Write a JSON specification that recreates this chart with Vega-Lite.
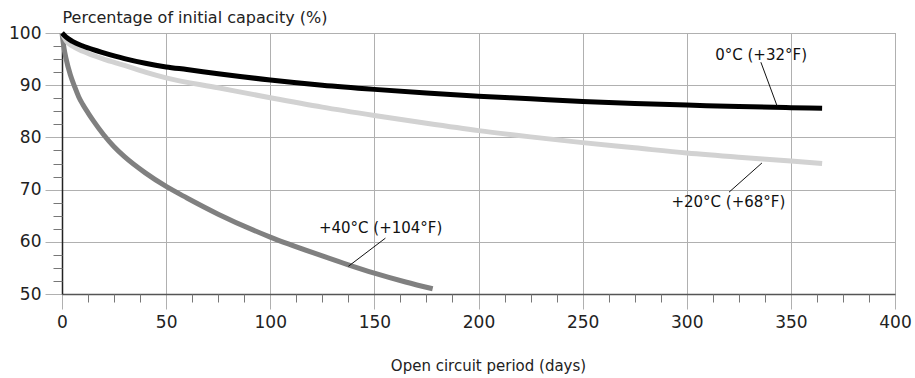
{
  "$schema": "https://vega.github.io/schema/vega-lite/v6.json",
  "width": 833,
  "height": 261,
  "autosize": "none",
  "padding": {"left": 62, "top": 33, "right": 20, "bottom": 84},
  "background": "white",
  "config": {
    "view": {"stroke": "#888888", "strokeWidth": 1},
    "font": "DejaVu Sans",
    "axis": {"labelFont": "DejaVu Sans", "titleFont": "DejaVu Sans", "labelColor": "#222", "titleColor": "#222", "titleFontWeight": "normal"}
  },
  "resolve": {"axis": {"x": "independent", "y": "independent"}},
  "datasets": {
    "curves": [
      {"series": "40", "x": 0, "y": 100}, {"series": "40", "x": 1, "y": 97}, {"series": "40", "x": 2, "y": 95}, {"series": "40", "x": 4, "y": 92}, {"series": "40", "x": 6, "y": 89.8}, {"series": "40", "x": 8, "y": 87.8}, {"series": "40", "x": 10, "y": 86.3}, {"series": "40", "x": 12.5, "y": 84.7}, {"series": "40", "x": 15, "y": 83.2}, {"series": "40", "x": 20, "y": 80.5}, {"series": "40", "x": 25, "y": 78.2}, {"series": "40", "x": 30, "y": 76.3}, {"series": "40", "x": 40, "y": 73.2}, {"series": "40", "x": 50, "y": 70.6}, {"series": "40", "x": 60, "y": 68.4}, {"series": "40", "x": 75, "y": 65.3}, {"series": "40", "x": 100, "y": 60.9}, {"series": "40", "x": 125, "y": 57.3}, {"series": "40", "x": 137.5, "y": 55.6}, {"series": "40", "x": 150, "y": 54.0}, {"series": "40", "x": 165, "y": 52.3}, {"series": "40", "x": 178, "y": 51.0},
      {"series": "20", "x": 0, "y": 100}, {"series": "20", "x": 2, "y": 98.5}, {"series": "20", "x": 5, "y": 97.5}, {"series": "20", "x": 10, "y": 96.5}, {"series": "20", "x": 20, "y": 95}, {"series": "20", "x": 30, "y": 93.8}, {"series": "20", "x": 40, "y": 92.5}, {"series": "20", "x": 50, "y": 91.4}, {"series": "20", "x": 75, "y": 89.5}, {"series": "20", "x": 100, "y": 87.6}, {"series": "20", "x": 125, "y": 85.8}, {"series": "20", "x": 150, "y": 84.2}, {"series": "20", "x": 175, "y": 82.7}, {"series": "20", "x": 200, "y": 81.3}, {"series": "20", "x": 225, "y": 80.1}, {"series": "20", "x": 250, "y": 79.0}, {"series": "20", "x": 275, "y": 78.0}, {"series": "20", "x": 300, "y": 77.0}, {"series": "20", "x": 325, "y": 76.2}, {"series": "20", "x": 350, "y": 75.5}, {"series": "20", "x": 365, "y": 75.0},
      {"series": "0", "x": 0, "y": 100}, {"series": "0", "x": 2, "y": 99.2}, {"series": "0", "x": 5, "y": 98.4}, {"series": "0", "x": 10, "y": 97.5}, {"series": "0", "x": 15, "y": 96.8}, {"series": "0", "x": 20, "y": 96.2}, {"series": "0", "x": 30, "y": 95.1}, {"series": "0", "x": 40, "y": 94.2}, {"series": "0", "x": 50, "y": 93.5}, {"series": "0", "x": 60, "y": 93.0}, {"series": "0", "x": 75, "y": 92.2}, {"series": "0", "x": 100, "y": 91.0}, {"series": "0", "x": 125, "y": 90.0}, {"series": "0", "x": 150, "y": 89.2}, {"series": "0", "x": 175, "y": 88.5}, {"series": "0", "x": 200, "y": 87.9}, {"series": "0", "x": 225, "y": 87.4}, {"series": "0", "x": 250, "y": 86.9}, {"series": "0", "x": 275, "y": 86.5}, {"series": "0", "x": 300, "y": 86.2}, {"series": "0", "x": 325, "y": 85.9}, {"series": "0", "x": 350, "y": 85.7}, {"series": "0", "x": 365, "y": 85.6}
    ],
    "labels": [
      {"label": "0°C (+32°F)", "x": 335.7, "y": 95.8},
      {"label": "+20°C (+68°F)", "x": 320, "y": 67.6},
      {"label": "+40°C (+104°F)", "x": 153, "y": 62.6}
    ],
    "leaders": [
      {"x": 335.6, "y": 94.4, "x2": 343.4, "y2": 86.0},
      {"x": 320.3, "y": 69.5, "x2": 336.1, "y2": 75.1},
      {"x": 155.3, "y": 60.7, "x2": 137.5, "y2": 55.3}
    ]
  },
  "layer": [
    {
      "data": {"name": "curves"},
      "mark": {"type": "line", "strokeWidth": 5, "interpolate": "monotone", "strokeCap": "butt"},
      "encoding": {
        "x": {
          "field": "x", "type": "quantitative",
          "scale": {"domain": [0, 400], "nice": false, "zero": false},
          "axis": {
            "orient": "bottom",
            "title": "Open circuit period (days)",
            "titleFontSize": 15, "titlePadding": 28, "titleX": 426,
            "values": [0, 50, 100, 150, 200, 250, 300, 350, 400],
            "labelFontSize": 17, "labelPadding": 5, "labelFlush": false, "labelOverlap": false,
            "tickSize": 15, "tickColor": "#b0b0b0",
            "grid": true, "gridColor": "#b0b0b0",
            "domainColor": "#555555", "domainWidth": 1.5
          }
        },
        "y": {
          "field": "y", "type": "quantitative",
          "scale": {"domain": [50, 100], "nice": false, "zero": false},
          "axis": {
            "orient": "left",
            "title": "Percentage of initial capacity (%)",
            "titleAngle": 0, "titleAlign": "left", "titleAnchor": "start", "titleBaseline": "alphabetic",
            "titleX": 0, "titleY": -11, "titleFontSize": 16,
            "values": [50, 60, 70, 80, 90, 100],
            "labelFontSize": 17, "labelPadding": 4, "labelFlush": false, "labelOverlap": false,
            "tickSize": 17, "tickColor": "#b0b0b0",
            "grid": true, "gridColor": "#b0b0b0",
            "domainColor": "#222222", "domainWidth": 1.5
          }
        },
        "color": {
          "field": "series", "type": "nominal", "legend": null,
          "scale": {"domain": ["40", "20", "0"], "range": ["#808080", "#d2d2d2", "#000000"]}
        },
        "order": {"field": "x", "type": "quantitative"}
      }
    },
    {
      "data": {"name": "leaders"},
      "mark": {"type": "rule", "color": "#111111", "strokeWidth": 1},
      "encoding": {
        "x": {
          "field": "x", "type": "quantitative",
          "axis": {
            "orient": "bottom", "title": null, "labels": false, "domain": false, "grid": false,
            "values": [12.5, 25, 37.5, 62.5, 75, 87.5, 112.5, 125, 137.5, 162.5, 175, 187.5, 212.5, 225, 237.5, 262.5, 275, 287.5, 312.5, 325, 337.5, 362.5, 375, 387.5],
            "tickSize": 8, "tickColor": "#777777"
          }
        },
        "y": {
          "field": "y", "type": "quantitative",
          "axis": {
            "orient": "left", "title": null, "labels": false, "domain": false, "grid": false,
            "values": [52.5, 55, 57.5, 62.5, 65, 67.5, 72.5, 75, 77.5, 82.5, 85, 87.5, 92.5, 95, 97.5],
            "tickSize": 9, "tickColor": "#777777"
          }
        },
        "x2": {"field": "x2"},
        "y2": {"field": "y2"}
      }
    },
    {
      "data": {"name": "labels"},
      "mark": {"type": "text", "fontSize": 15, "color": "#111111", "align": "center", "baseline": "middle", "font": "DejaVu Sans"},
      "encoding": {
        "x": {"field": "x", "type": "quantitative", "axis": null},
        "y": {"field": "y", "type": "quantitative", "axis": null},
        "text": {"field": "label"}
      }
    }
  ]
}
